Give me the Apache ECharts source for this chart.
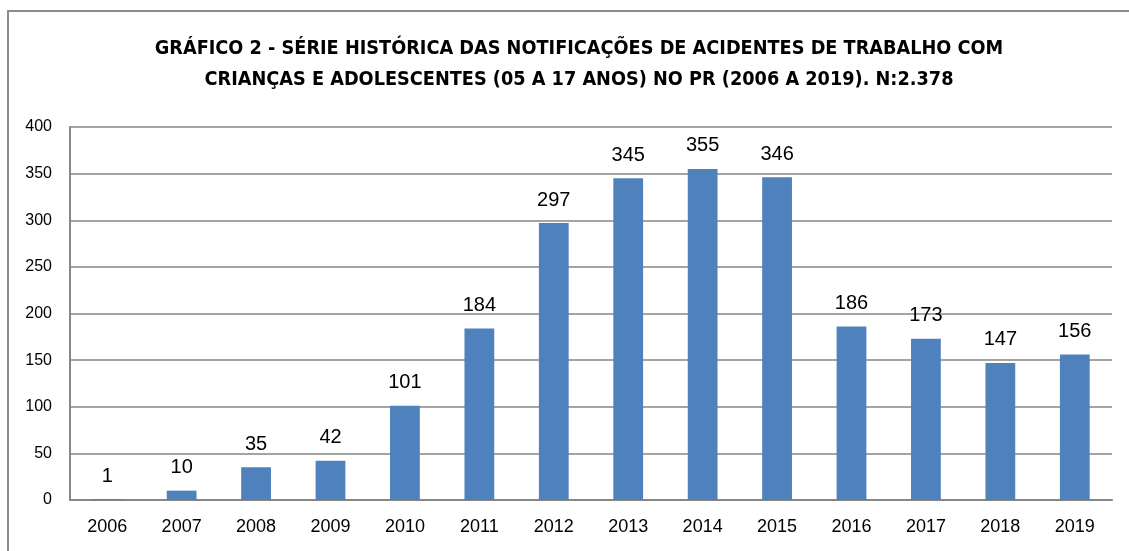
<!DOCTYPE html>
<html>
<head>
<meta charset="utf-8">
<script src="https://cdn.jsdelivr.net/npm/echarts@6/dist/echarts.min.js"></script>
<style>
  html, body { margin: 0; padding: 0; background: #fff; }
  #frame {
    position: absolute; left: 7px; top: 10px; width: 1140px; height: 560px;
    border: 2px solid #8c8c8c; box-sizing: border-box;
  }
  #chart { position: absolute; left: 0; top: 0; width: 1129px; height: 551px; }
</style>
</head>
<body>
<div id="frame"></div>
<div id="chart"></div>
<script>
var years = ['2006', '2007', '2008', '2009', '2010', '2011', '2012',
             '2013', '2014', '2015', '2016', '2017', '2018', '2019'];
var notificacoes = [1, 10, 35, 42, 101, 184, 297, 345, 355, 346, 186, 173, 147, 156];
var titleText = 'GRÁFICO 2 - SÉRIE HISTÓRICA DAS NOTIFICAÇÕES DE ACIDENTES DE TRABALHO COM\n' +
                'CRIANÇAS E ADOLESCENTES (05 A 17 ANOS) NO PR (2006 A 2019). N:2.378';

var myChart = echarts.init(document.getElementById('chart'));
var titleFont = '"DejaVu Sans Condensed", "Liberation Sans Narrow", sans-serif';
var font = '"Liberation Sans", Arial, sans-serif';

var option = {
  animation: false,
  title: {
    text: titleText,
    left: 574,
    textAlign: 'center',
    top: 28,
    textStyle: {
      fontFamily: titleFont,
      fontWeight: 'bold',
      fontSize: 19.7,
      lineHeight: 31,
      color: '#000'
    }
  },
  grid: { left: 70, right: 17, top: 127, bottom: 51 },
  xAxis: {
    type: 'category',
    data: years,
    axisTick: { show: false },
    axisLine: { lineStyle: { color: '#868686', width: 2 } },
    axisLabel: { color: '#000', fontSize: 18, fontFamily: font, margin: 18 }
  },
  yAxis: {
    type: 'value',
    min: 0,
    max: 400,
    interval: 50,
    axisLine: { show: true, lineStyle: { color: '#868686', width: 2 } },
    axisTick: { show: false },
    splitLine: { lineStyle: { color: '#868686', width: 1.5 } },
    axisLabel: { color: '#000', fontSize: 16, fontFamily: font, margin: 18 }
  },
  series: [{
    type: 'bar',
    data: notificacoes,
    barWidth: '40%',
    itemStyle: { color: '#4F81BD' },
    label: {
      show: true,
      position: 'top',
      distance: 13,
      color: '#000',
      fontSize: 20,
      fontFamily: font
    }
  }]
};

myChart.setOption(option);
</script>
</body>
</html>
